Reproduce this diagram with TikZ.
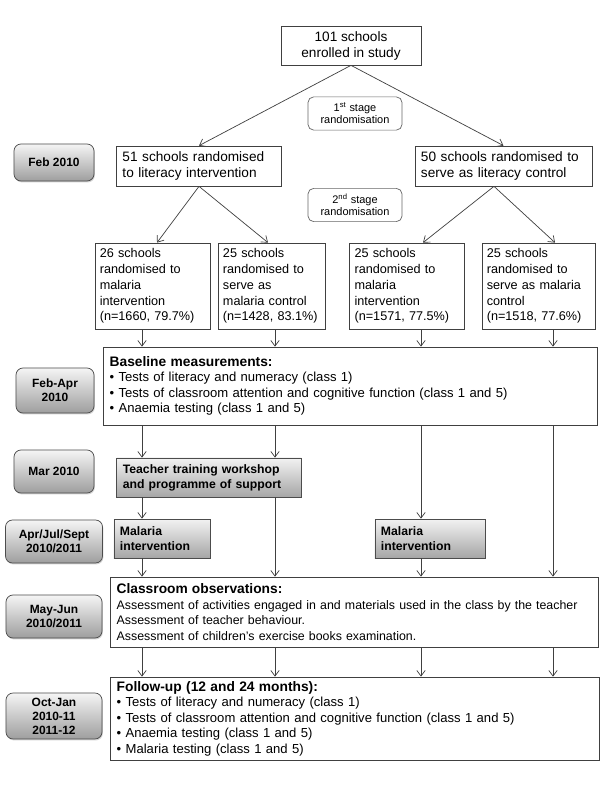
\documentclass[tikz,border=0pt]{standalone}
\usepackage{fontspec}
\setmainfont{Liberation Sans}
\usetikzlibrary{shapes, backgrounds, calc, shadows, arrows.meta}

\tikzset{
	box/.style={draw=black!75, line width=0.5pt, fill=white, inner xsep=0.15cm, inner ysep=2pt, align=left, font=\fontsize{9.3}{11}\selectfont},
	grpbox/.style={box, inner xsep=0.12cm, minimum height=2.15cm, font=\fontsize{9}{11.2}\selectfont},
	stagebox/.style={draw=black!60, line width=0.5pt, rounded corners=4pt, minimum width=2.35cm, minimum height=0.83cm, align=center, font=\fontsize{7.8}{8.6}\selectfont},
	datebox/.style={draw=black!70, line width=0.5pt, rounded corners=5pt, top color=black!4, bottom color=black!38, drop shadow={shadow xshift=0.6pt, shadow yshift=-1pt, opacity=0.35}, align=center, font=\bfseries\fontsize{8.5}{10}\selectfont},
	actbox/.style={draw=black!70, line width=0.5pt, top color=black!5, bottom color=black!35, drop shadow={shadow xshift=0.6pt, shadow yshift=-1pt, opacity=0.35}, inner xsep=0.15cm, align=left, font=\bfseries\fontsize{8.7}{10.6}\selectfont},
	flow/.style={draw=black!75, line width=0.5pt, -{Straight Barb[length=4pt,width=6pt]}}
}

\begin{document}
\begin{tikzpicture}[x=0.025cm, y=-0.025cm]
				\fill[white] (0, 0) rectangle (600, 800);
				
				\coordinate (c1) at (142, 0);
				\coordinate (c2) at (275, 0);
				\coordinate (c3) at (421, 0);
				\coordinate (c4) at (553, 0);
				\coordinate (t1) at (157, 0);
				\coordinate (t2) at (268, 0);
				\coordinate (t3) at (423, 0);
				\coordinate (t4) at (555, 0);
				\coordinate (apex) at (494, 0);
				
				\node[box, align=center, minimum width=3.5cm, minimum height=0.975cm, font=\fontsize{9.7}{11.4}\selectfont] (enrol) at (351, 45.5) {101 schools\\enrolled in study};
				\node[stagebox] (stage1) at (355, 113.5) {1\textsuperscript{st} stage\\randomisation};
				\node[box, text width=3.825cm, minimum height=1cm, font=\fontsize{9.7}{11.4}\selectfont] (lit) at (199, 166) {51 schools randomised\\to literacy intervention};
				\node[box, text width=4.125cm, minimum height=1cm, font=\fontsize{9.7}{11.4}\selectfont] (litctl) at (503.5, 166) {50 schools randomised to\\serve as literacy control};
				\node[stagebox] (stage2) at (355, 205) {2\textsuperscript{nd} stage\\randomisation};
				
				\node[grpbox, text width=2.635cm] (grp1) at (152.5, 286) {26 schools\\randomised to\\malaria\\intervention\\(n=1660, 79.7\%)};
				\node[grpbox, text width=2.45cm] (grp2) at (272, 286) {25 schools\\randomised to\\serve as\\malaria control\\(n=1428, 83.1\%)};
				\node[grpbox, text width=2.62cm] (grp3) at (407, 286) {25 schools\\randomised to\\malaria\\intervention\\(n=1571, 77.5\%)};
				\node[grpbox, text width=2.585cm] (grp4) at (538.5, 286) {25 schools\\randomised to\\serve as malaria\\control\\(n=1518, 77.6\%)};
				
				\node[box, text width=12.04cm, minimum height=1.95cm] (base) at (350.5, 386) {{\bfseries\fontsize{9.8}{11}\selectfont Baseline measurements:}\\
					• Tests of literacy and numeracy (class 1)\\
					• Tests of classroom attention and cognitive function (class 1 and 5)\\
					• Anaemia testing (class 1 and 5)};
				\node[actbox, text width=4.31cm, minimum height=0.975cm] (train) at (209, 477.5) {Teacher training workshop\\and programme of support};
				\node[actbox, text width=2.1cm, minimum height=0.975cm] (mal1) at (162, 538.5) {Malaria\\intervention};
				\node[actbox, text width=2.45cm, minimum height=0.975cm] (mal2) at (430, 538.5) {Malaria\\intervention};
				\node[box, text width=11.89cm, minimum height=1.75cm, font=\fontsize{8.8}{11}\selectfont] (obs) at (354.5, 612) {{\bfseries\fontsize{9.8}{11}\selectfont Classroom observations:}\\
					Assessment of activities engaged in and materials used in the class by the teacher\\
					Assessment of teacher behaviour.\\
					Assessment of children’s exercise books examination.};
				\node[box, text width=11.91cm, minimum height=2.075cm] (follow) at (355, 718.5) {{\bfseries\fontsize{9.8}{11}\selectfont Follow-up (12 and 24 months):}\\
					• Tests of literacy and numeracy (class 1)\\
					• Tests of classroom attention and cognitive function (class 1 and 5)\\
					• Anaemia testing (class 1 and 5)\\
					• Malaria testing (class 1 and 5)};
				
				\node[datebox, minimum width=2cm, minimum height=0.925cm] (feb) at (54, 162.5) {Feb 2010};
				\node[datebox, minimum width=1.95cm, minimum height=1.125cm] (febapr) at (55, 390.5) {Feb-Apr\\2010};
				\node[datebox, minimum width=2cm, minimum height=1.075cm] (mar) at (54, 471.5) {Mar 2010};
				\node[datebox, minimum width=2.425cm, minimum height=1.075cm] (apr) at (54, 541.5) {Apr/Jul/Sept\\2010/2011};
				\node[datebox, minimum width=2.4cm, minimum height=1.075cm] (mayjun) at (54, 616.5) {May-Jun\\2010/2011};
				\node[datebox, minimum width=2.4cm, minimum height=1.05cm] (octjan) at (54, 716) {Oct-Jan\\2010-11\\2011-12};
				
				\draw[flow] (enrol.south) -- (lit.north);
				\draw[flow] (enrol.south) -- (litctl.north);
				\draw[flow] (lit.south) -- (grp1.north -| t1);
				\draw[flow] (lit.south) -- (grp2.north -| t2);
				\draw[flow] (litctl.south -| apex) -- (grp3.north -| t3);
				\draw[flow] (litctl.south -| apex) -- (grp4.north -| t4);
				
				\foreach \g in {1, 2, 3, 4}
					\draw[flow] (grp\g.south -| c\g) -- (base.north -| c\g);
				\draw[flow] (base.south -| c1) -- (train.north -| c1);
				\draw[flow] (base.south -| c2) -- (train.north -| c2);
				\draw[flow] (base.south -| c3) -- (mal2.north -| c3);
				\draw[flow] (base.south -| c4) -- (obs.north -| c4);
				\draw[flow] (train.south -| c1) -- (mal1.north -| c1);
				\draw[flow] (train.south -| c2) -- (obs.north -| c2);
				\draw[flow] (mal1.south -| c1) -- (obs.north -| c1);
				\draw[flow] (mal2.south -| c3) -- (obs.north -| c3);
				\foreach \g in {1, 2, 3, 4}
					\draw[flow] (obs.south -| c\g) -- (follow.north -| c\g);
			\end{tikzpicture}
\end{document}
